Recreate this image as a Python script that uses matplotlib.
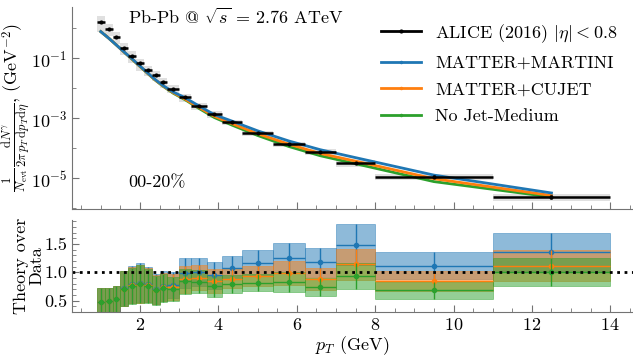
import numpy as np
import matplotlib.pyplot as plt
from matplotlib.lines import Line2D
from matplotlib.ticker import MultipleLocator, FixedLocator, NullFormatter

plt.rcParams['font.family'] = 'serif'
plt.rcParams['font.serif'] = ['cmr10']
plt.rcParams['mathtext.fontset'] = 'cm'
plt.rcParams['axes.formatter.use_mathtext'] = True
plt.rcParams['font.size'] = 13

# pT bins (GeV)
edges = np.array([0.9, 1.1, 1.3, 1.5, 1.7, 1.9, 2.1, 2.3, 2.5, 2.7, 3.0,
                  3.3, 3.7, 4.1, 4.6, 5.4, 6.2, 7.0, 8.0, 11.0, 14.0])
centers = 0.5 * (edges[1:] + edges[:-1])
halfw = 0.5 * (edges[1:] - edges[:-1])

# ALICE (2016) direct photon yield, 0-20%
alice = np.array([1.66, 0.95, 0.525, 0.225, 0.122, 0.068, 0.041, 0.027, 0.016,
                  0.0097, 0.005, 0.0026, 0.0014, 7.5e-4, 3.3e-4, 1.4e-4,
                  7.7e-5, 3.3e-5, 1.15e-5, 2.4e-6])
alice_stat = np.array([0.08, 0.07, 0.07, 0.06, 0.06, 0.06, 0.06, 0.06, 0.06,
                       0.06, 0.06, 0.06, 0.06, 0.06, 0.06, 0.06, 0.08, 0.1,
                       0.1, 0.15])
# relative uncertainty (systematic boxes / ratio bands)
rel_err = np.array([0.53, 0.43, 0.42, 0.43, 0.41, 0.42, 0.39, 0.37, 0.34, 0.30,
                    0.27, 0.245, 0.25, 0.19, 0.185, 0.21, 0.22, 0.245, 0.21, 0.245])

# theory / data
ratio_martini = np.array([0.47, 0.50, 0.53, 0.72, 0.79, 0.82, 0.79, 0.71, 0.76, 0.78,
                          0.98, 1.01, 0.95, 1.08, 1.17, 1.26, 1.175, 1.49, 1.12, 1.36])
ratio_cujet = np.array([0.47, 0.50, 0.53, 0.71, 0.77, 0.80, 0.77, 0.69, 0.74, 0.74,
                        0.88, 0.90, 0.84, 0.89, 0.94, 0.99, 0.88, 1.14, 0.85, 1.12])
ratio_nojet = np.array([0.47, 0.50, 0.53, 0.71, 0.76, 0.79, 0.76, 0.68, 0.72, 0.71,
                        0.84, 0.835, 0.76, 0.795, 0.82, 0.825, 0.74, 0.935, 0.68, 1.0])

labels = ['MATTER+MARTINI', 'MATTER+CUJET', 'No Jet-Medium']
colors = ['#1f77b4', '#ff7f0e', '#2ca02c']
ratios = [ratio_martini, ratio_cujet, ratio_nojet]

fig = plt.figure(figsize=(6.33, 3.58), dpi=100)
left = 0.1137
ax1 = fig.add_axes([left, 0.416, 1 - left, 0.564])
ax2 = fig.add_axes([left, 0.1285, 1 - left, 0.2565])

# --- top panel: spectra
ax1.bar(edges[:-1], alice * 2 * rel_err, bottom=alice * (1 - rel_err),
        width=2 * halfw, align='edge', color='0.88', zorder=1)
for r, c, z in zip(ratios, colors, [5, 4, 3]):
    ax1.plot(centers, alice * r, color=c, lw=2, zorder=z)
ax1.errorbar(centers, alice, xerr=halfw, yerr=alice * alice_stat, fmt='.',
             color='k', ms=4, elinewidth=1.8, capsize=0, zorder=6)

ax1.set_yscale('log')
ax1.set_ylim(9.5e-7, 5.1)
ax1.yaxis.set_major_locator(FixedLocator([1e-5, 1e-3, 1e-1]))
ax1.yaxis.set_minor_locator(FixedLocator([1e-6, 1e-4, 1e-2, 1e0]))
ax1.yaxis.set_minor_formatter(NullFormatter())
ax1.xaxis.set_major_formatter(NullFormatter())
ax1.set_ylabel(r'$\frac{1}{N_{\rm evt}}\frac{{\rm d}N^{\gamma}}{2\pi\,p_T\,{\rm d}p_T{\rm d}\eta}$, (GeV$^{-2}$)')
ax1.yaxis.set_label_coords(-0.071, 0.5)
ax1.text(0.10, 0.95, r'Pb-Pb @ $\sqrt{s}$ = 2.76 ATeV', transform=ax1.transAxes,
         ha='left', va='center')
ax1.text(0.10, 0.129, '00-20%', transform=ax1.transAxes, ha='left', va='center')

handles = [Line2D([], [], color='k', lw=2, marker='.', ms=4)]
handles += [Line2D([], [], color=c, lw=2, marker='.', ms=3) for c in colors]
ax1.legend(handles, [r'ALICE (2016) $|\eta| < 0.8$'] + labels, loc='upper right',
           frameon=False, fontsize=13, handlelength=2.2, borderaxespad=0.3,
           labelspacing=0.6, bbox_to_anchor=(0.995, 0.99))

# --- bottom panel: theory over data
for r, c in zip(ratios, colors):
    lo = r * (1 - rel_err)
    hi = r * (1 + rel_err)
    ax2.bar(edges[:-1], hi - lo, bottom=lo, width=2 * halfw, align='edge',
            color=c, alpha=0.5, edgecolor=c, linewidth=0.6)
    ax2.hlines(r, edges[:-1], edges[1:], color=c, lw=1)
    ax2.vlines(centers, lo, hi, color=c, lw=1)
    ax2.plot(centers, r, 'o', color=c, ms=3)
ax2.axhline(1.0, color='k', ls=':', lw=2)
ax2.set_ylim(0.3, 1.92)
ax2.yaxis.set_major_locator(FixedLocator([0.5, 1.0, 1.5]))
ax2.yaxis.set_minor_locator(MultipleLocator(0.1))
ax2.yaxis.set_major_formatter(plt.FuncFormatter(lambda v, p: f'{v:.1f}'))
ax2.set_ylabel('Theory over\nData', linespacing=1.0)
ax2.yaxis.set_label_coords(-0.049, 0.5)
ax2.set_xlabel(r'$p_T$ (GeV)', labelpad=1)

for ax in (ax1, ax2):
    ax.set_xlim(0.265, 14.58)
    ax.xaxis.set_major_locator(MultipleLocator(2))
    ax.xaxis.set_minor_locator(MultipleLocator(0.5))
    for s in ('top', 'right'):
        ax.spines[s].set_visible(False)
    for s in ('left', 'bottom'):
        ax.spines[s].set_color('0.45')
    ax.tick_params(which='both', direction='in', color='0.45')
    ax.tick_params(which='major', length=5)
    ax.tick_params(which='minor', length=3)

fig.savefig('out.png', dpi=100)
